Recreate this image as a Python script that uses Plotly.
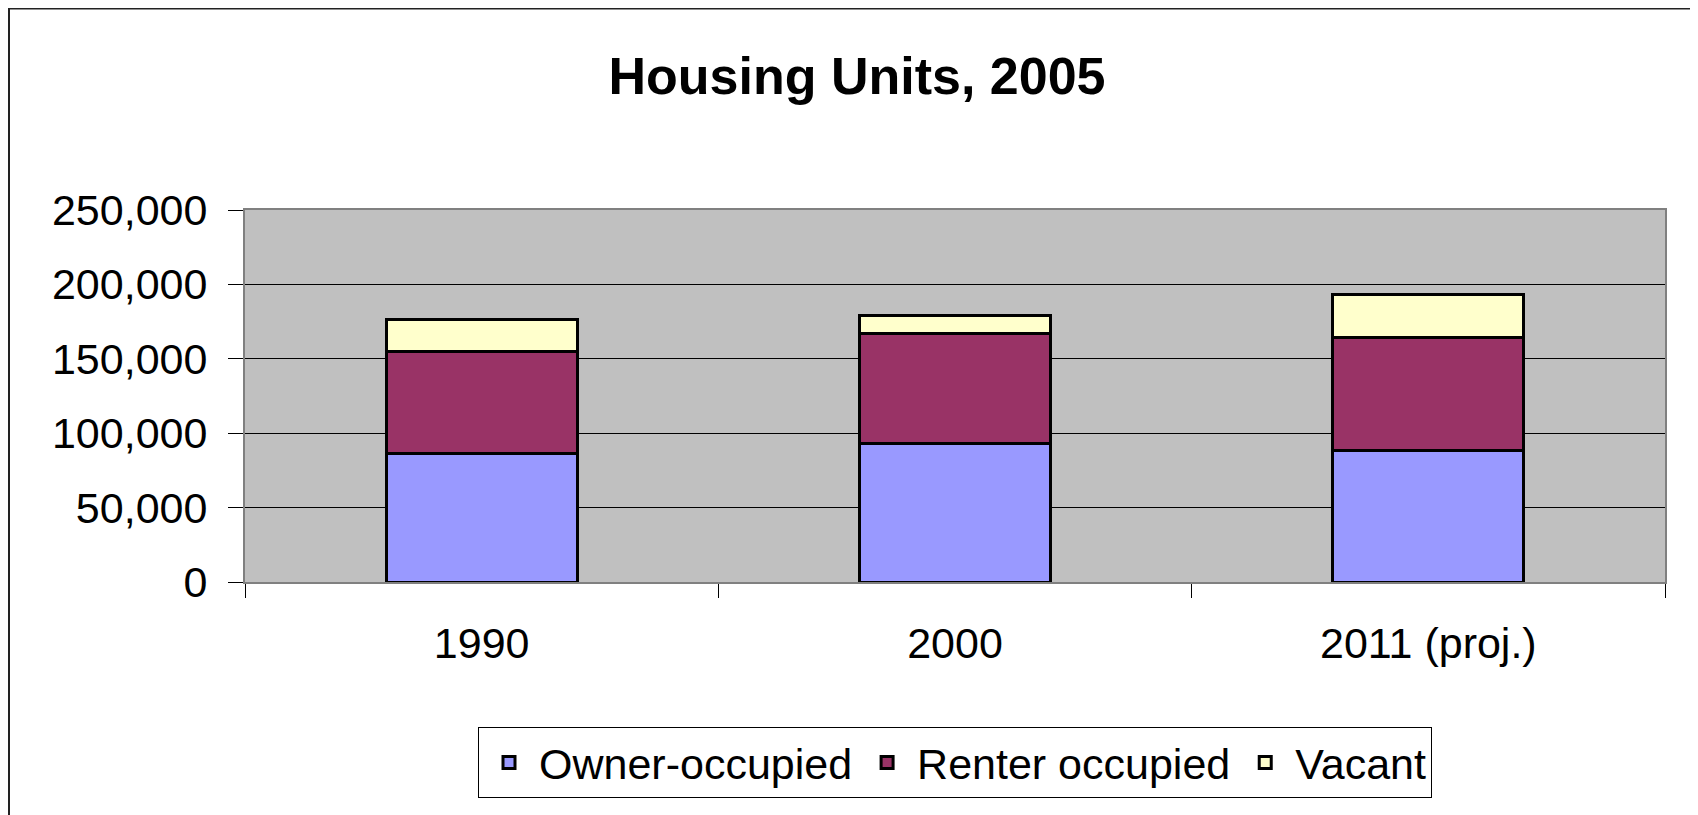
import plotly.graph_objects as go

categories = ["1990", "2000", "2011 (proj.)"]
owner_occupied = [86100, 92800, 88300]
renter_occupied = [68900, 73900, 76200]
vacant = [21400, 12400, 28700]
y_ticks = [0, 50000, 100000, 150000, 200000, 250000]
y_tick_labels = ["0", "50,000", "100,000", "150,000", "200,000", "250,000"]

FONT = "Liberation Sans, Arial, sans-serif"
OFF = 8  # page body margin
W, H = 1698 - OFF, 815 - OFF
L, R, T, B = 245 - OFF, 33, 210 - OFF, 233
pw, ph = W - L - R, H - T - B

def px_to_paper_x(px):
    return (px - OFF - L) / pw

def px_to_paper_y(py):
    return (H - B - (py - OFF)) / ph

fig = go.Figure()
series = [
    ("Owner-occupied", owner_occupied, "#9999FF"),
    ("Renter occupied", renter_occupied, "#993366"),
    ("Vacant", vacant, "#FFFFCC"),
]
for name, vals, color in series:
    fig.add_trace(go.Bar(
        x=categories, y=vals, name=name,
        marker=dict(color=color, line=dict(color="black", width=3)),
    ))

fig.update_layout(
    width=W, height=H,
    barmode="stack",
    bargap=0.596,
    paper_bgcolor="white",
    plot_bgcolor="#C0C0C0",
    margin=dict(l=L, r=R, t=T, b=B, autoexpand=False),
    font=dict(family=FONT, color="black", size=43),
    title=dict(
        text="<b>Housing Units, 2005</b>",
        font=dict(family=FONT, size=52, color="black"),
        x=(857 - OFF) / W, xanchor="center",
        y=1 - (76 - OFF) / H, yanchor="middle",
        xref="container", yref="container",
    ),
    showlegend=True,
    legend=dict(
        orientation="h",
        x=0.5, xanchor="center",
        y=px_to_paper_y(727), yanchor="top",
        bgcolor="white",
        bordercolor="black", borderwidth=1,
        font=dict(family=FONT, size=43, color="black"),
        traceorder="normal",
        itemwidth=50,
    ),
    xaxis=dict(
        type="category",
        showgrid=False,
        showline=True, linecolor="#808080", linewidth=2, mirror=True,
        ticks="outside", tickson="boundaries", ticklen=14,
        tickcolor="black", tickwidth=1,
        ticklabelstandoff=22,
        tickfont=dict(family=FONT, size=43, color="black"),
    ),
    yaxis=dict(
        range=[0, 250000],
        tickvals=y_ticks, ticktext=y_tick_labels,
        showgrid=True, gridcolor="black", gridwidth=1,
        zeroline=True, zerolinecolor="black", zerolinewidth=1,
        showline=True, linecolor="#808080", linewidth=2, mirror=True,
        ticks="outside", ticklen=15, tickcolor="black", tickwidth=1,
        ticklabelstandoff=12,
        tickfont=dict(family=FONT, size=43, color="black"),
    ),
    shapes=[
        dict(
            type="rect", xref="paper", yref="paper",
            x0=px_to_paper_x(9), x1=px_to_paper_x(1696),
            y0=px_to_paper_y(840), y1=px_to_paper_y(8.5),
            line=dict(color="#222222", width=2),
            fillcolor="rgba(0,0,0,0)", layer="below",
        )
    ],
)

fig.write_html("out.html")
